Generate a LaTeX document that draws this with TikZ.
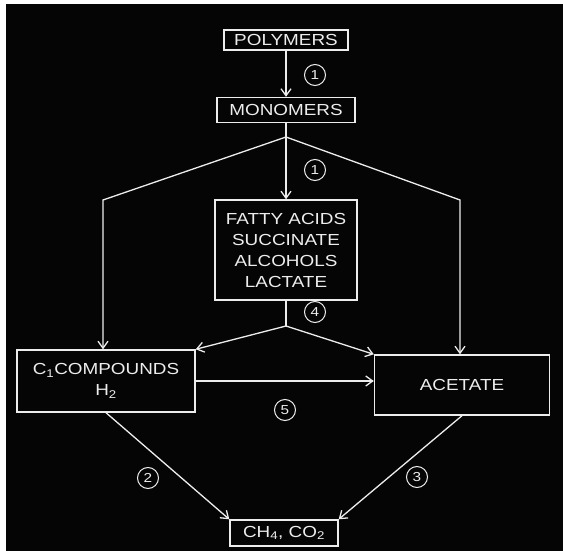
\documentclass[tikz,border=0pt]{standalone}
\usepackage{fontspec}
\setmainfont{Liberation Sans}[FakeStretch=1.18]
\usetikzlibrary{arrows.meta,calc,positioning}
\definecolor{chalk}{HTML}{EDEDED}
\definecolor{slate}{HTML}{050505}

\begin{document}
\begin{tikzpicture}[x=1pt,y=-1pt,
  box/.style={draw=chalk,line width=1.4pt,align=center,text=chalk,font=\fontsize{16}{21}\selectfont,inner sep=2pt},
  flow/.style={draw=chalk,line width=1.3pt,-{Straight Barb[length=7pt,width=10pt]}},
  link/.style={draw=chalk,line width=1.3pt},
  stage/.style={circle,draw=chalk,line width=1pt,text=chalk,inner sep=1pt,minimum size=21pt,font=\fontsize{13}{13}\selectfont}]
\useasboundingbox[fill=white] (0,0) rectangle (563,551);
\fill[slate] (6,4) rectangle (563,551);
\node[box,minimum width=124pt,minimum height=20pt] (poly) at (286,40) {POLYMERS};
\node[box,minimum width=138pt,minimum height=25pt] (mono) at (286,110) {MONOMERS};
\node[box,minimum width=142pt,minimum height=100pt] (fatty) at (286,250) {FATTY ACIDS\\SUCCINATE\\ALCOHOLS\\LACTATE};
\node[box,minimum width=178pt,minimum height=62pt] (c1) at (106,381) {C\textsubscript{1}COMPOUNDS\\H\textsubscript{2}};
\node[box,minimum width=175pt,minimum height=60pt] (acet) at (462,385) {ACETATE};
\node[box,minimum width=108pt,minimum height=26pt] (gas) at (284,533) {CH\textsubscript{4}, CO\textsubscript{2}};
\coordinate (split) at (286,137);
\coordinate (lbend) at (103,200);
\coordinate (rbend) at (460,200);
\coordinate (merge) at (286,326);
% hydrolysis and fermentation
\draw[flow] (poly) -- (mono);
\draw[link] (mono) -- (split);
\draw[flow] (split) -- (fatty);
\draw[flow] (split) -- (lbend) -- (lbend |- c1.north);
\draw[flow] (split) -- (rbend) -- (rbend |- acet.north);
\draw[link] (fatty) -- (merge);
\draw[flow] (merge) -- (c1.north east);
\draw[flow] (merge) -- (acet.north west);
\draw[flow] (c1.east) -- (c1.east -| acet.west);
% methanogenesis
\draw[flow] (c1.south) -- (gas.north west);
\draw[flow] (acet.south) -- (gas.north east);
\node[stage] (s1a) at (315,75) {1};
\node[stage] (s1b) at (315,170) {1};
\node[stage] (s4) at (315,312) {4};
\node[stage] (s5) at (285,410) {5};
\node[stage] (s2) at (148,478) {2};
\node[stage] (s3) at (417,477) {3};
\end{tikzpicture}
\end{document}
